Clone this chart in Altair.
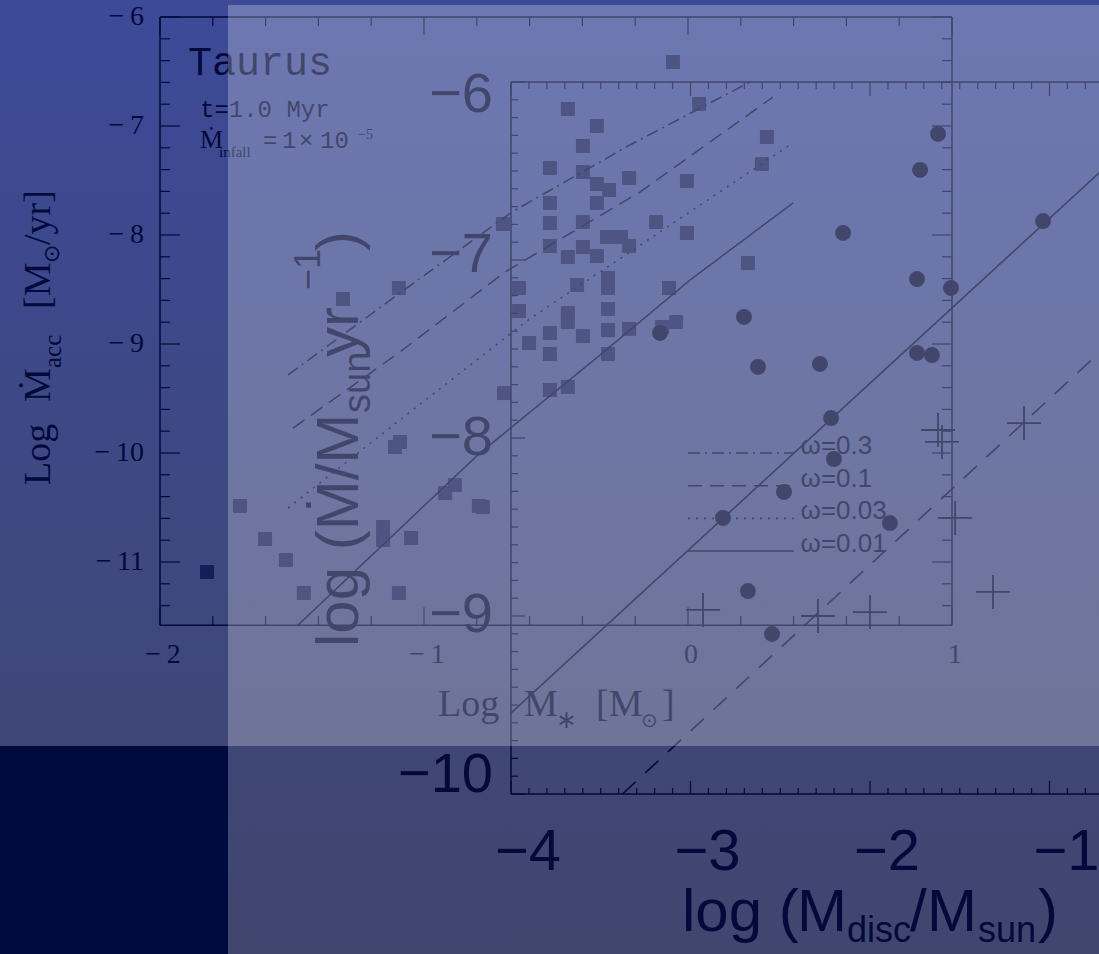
import altair as alt
import numpy as np
import pandas as pd

W, H = 1099, 954
INK = "#03093a"
SQUARE_FILL = "#151d5a"
SANS, SERIF, MONO = "Liberation Sans", "Liberation Serif", "Liberation Mono"

# ---------------- back panel: Taurus, log M* vs log Mdot_acc ----------------
taurus_logm = [
    -0.057, -0.455, 0.042, -0.345, -0.398, 0.299, 0.280, -0.523, -0.398, -0.223,
    -0.345, -0.299, -0.004, -0.523, -0.345, -0.523, -0.398, -0.121, -0.701, -0.307,
    -0.254, -0.223, -0.004, -0.523, -0.398, -0.455, -0.345, 0.227, -0.420, -0.303,
    -0.303, -0.303, -0.640, -0.072, -0.045, -0.640, -0.455, -0.455, -0.523, -0.398,
    -0.303, -0.223, -0.098, -0.602, -0.523, -0.303, -0.523, -0.455, -0.697, -0.777,
    -1.697, -1.602, -1.523, -1.455, -1.307, -1.095, -1.110, -1.091, -1.155, -1.155,
    -1.049, -1.095, -0.920, -0.883, -0.792, -1.822,
]
taurus_logmacc = [
    -6.413, -6.844, -6.798, -7.000, -7.183, -7.101, -7.349, -7.385, -7.422, -7.477,
    -7.532, -7.587, -7.505, -7.706, -7.706, -7.890, -7.881, -7.881, -7.899, -8.018,
    -8.018, -8.101, -7.982, -8.101, -8.110, -8.202, -8.193, -8.257, -8.459, -8.394,
    -8.486, -8.679, -8.486, -8.486, -8.798, -8.697, -8.716, -8.798, -8.899, -8.927,
    -8.872, -8.862, -8.844, -8.991, -9.092, -9.092, -9.422, -9.394, -9.450, -10.495,
    -10.486, -10.789, -10.982, -11.284, -8.587, -8.486, -9.945, -9.899, -10.679, -10.798,
    -10.780, -11.284, -10.367, -10.294, -10.486, -11.092,
]

# model curves for four values of omega
omega_labels = ["ω=0.3", "ω=0.1", "ω=0.03", "ω=0.01"]
omega_dash = [[12, 5, 2, 5], [14, 8], [2, 6], [1, 0]]
curve_logm = [
    [-1.515, -1.091, -0.667, -0.220, 0.235],
    [-1.496, -1.091, -0.693, -0.182, 0.322],
    [-1.515, -1.091, -0.606, -0.106, 0.386],
    [-1.477, -0.788, -0.333, 0.008, 0.398],
]
curve_logmacc = [
    [-9.284, -8.532, -7.789, -7.174, -6.596],
    [-9.771, -9.073, -8.339, -7.606, -6.734],
    [-10.505, -9.697, -8.780, -7.972, -7.174],
    [-11.578, -10.000, -9.101, -8.413, -7.706],
]
legend_key_y = [-10.0, -10.3, -10.6, -10.9]
legend_key_x = [0.0, 0.4]

back_y_ticks = [-6, -7, -8, -9, -10, -11]
back_y_labels = ["−\u20096", "−\u20097", "−\u20098", "−\u20099", "−\u200910", "−\u200911"]
back_x_ticks = [-2, -1, 0, 1]
back_x_labels = ["−\u20092", "−\u20091", "0", "1"]
BACK_BOTTOM = -11.58

# ---------------- front panel: log M_disc vs log Mdot ----------------
disc_logmd = [
    -1.621, -1.721, -2.150, -1.036, -1.738, -1.549, -2.702, -3.170, -1.738, -1.655,
    -2.279, -2.624, -2.217, -2.201, -2.479, -2.819, -1.889, -2.680, -2.546,
]
disc_logmdot = [
    -6.292, -6.494, -6.848, -6.781, -7.107, -7.157, -7.320, -7.410, -7.522, -7.534,
    -7.584, -7.601, -7.888, -8.118, -8.303, -8.449, -8.478, -8.860, -9.101,
]
limit_logmd = [-2.930, -2.290, -2.000, -1.621, -1.599, -1.526, -1.315, -1.142]
limit_logmdot = [-8.966, -9.000, -8.978, -7.955, -8.022, -8.449, -8.865, -7.916]

fit_solid_logmd = [-4.0, -0.6]
fit_solid_logmdot = [-9.545, -6.396]
fit_dashed_logmd = [-3.379, -0.6]
fit_dashed_logmdot = [-10.0, -7.406]

front_x_ticks = [-4, -3, -2, -1]
front_x_labels = ["−4", "−3", "−2", "−1"]
front_y_ticks = [-6, -7, -8, -9, -10]
front_y_labels = ["−6", "−7", "−8", "−9", "−10"]
front_y_label_shift = [13, -5, 0, -1, -19]   # px downward; end labels sit inside the frame
FRONT_RIGHT = -0.5


def lin(domain, rng):
    return alt.Scale(domain=domain, range=rng, zero=False, nice=False)


BX = lin([-2, 1], [160, 952])
BY = lin([-11, -6], [562, 17])
FX = lin([-4, -1], [511, 1049.5])
FY = lin([-10, -6], [794, 82])
FY_PER_UNIT = (794 - 82) / 4


def ex(f, s):
    return alt.X(f"{f}:Q", scale=s, axis=None)


def ey(f, s):
    return alt.Y(f"{f}:Q", scale=s, axis=None)


ONE = pd.DataFrame({"a": [0]})


def panel_rect(x0, x1, y0, y1, **kw):
    return alt.Chart(ONE).mark_rect(**kw).encode(
        x=alt.value(x0), x2=alt.value(x1), y=alt.value(y0), y2=alt.value(y1))


def segment(x1, x2, y1, y2, xs, ys, width=1.5):
    df = pd.DataFrame({"x": [x1], "x2": [x2], "y": [y1], "y2": [y2]})
    return alt.Chart(df).mark_rule(color=INK, strokeWidth=width).encode(
        x=ex("x", xs), x2=alt.X2("x2"), y=ey("y", ys), y2=alt.Y2("y2"))


def tick_layer(vals, const, side, length, xs, ys, width=1.2):
    if side in ("left", "right"):
        df = pd.DataFrame({"y": vals, "x": const})
        off = length if side == "left" else -length
        return alt.Chart(df).mark_rule(color=INK, strokeWidth=width, x2Offset=off).encode(
            x=ex("x", xs), x2=alt.X2("x"), y=ey("y", ys))
    df = pd.DataFrame({"x": vals, "y": const})
    off = length if side == "top" else -length
    return alt.Chart(df).mark_rule(color=INK, strokeWidth=width, y2Offset=off).encode(
        x=ex("x", xs), y=ey("y", ys), y2=alt.Y2("y"))


def minor(lo, hi, step):
    vals = np.round(np.arange(lo, hi + step / 2, step), 2)
    return [float(v) for v in vals if abs(v - round(v)) > 1e-6]


def text_pieces(rows, font, angle=0):
    df = pd.DataFrame(rows, columns=["t", "px", "py", "fs"])
    return alt.Chart(df).mark_text(
        font=font, align="left", baseline="alphabetic", angle=angle, color=INK
    ).encode(
        x=alt.X("px:Q", scale=None, axis=None),
        y=alt.Y("py:Q", scale=None, axis=None),
        text="t:N",
        size=alt.Size("fs:Q", scale=None, legend=None),
    )


layers = []

# backgrounds
layers.append(panel_rect(0, W, 0, H, color=alt.LinearGradient(
    gradient="linear",
    stops=[alt.GradientStop(color="#3c4a98", offset=0),
           alt.GradientStop(color="#40466e", offset=1)],
    x1=0, x2=0, y1=0, y2=1)))
layers.append(panel_rect(0, 228, 746, H, color="#000a3c"))

# ---- back panel ----
for x1, x2, y1, y2 in [(-2, 1, -6, -6), (-2, 1, BACK_BOTTOM, BACK_BOTTOM),
                       (-2, -2, BACK_BOTTOM, -6), (1, 1, BACK_BOTTOM, -6)]:
    layers.append(segment(x1, x2, y1, y2, BX, BY))

b_ymin = minor(-11.4, -6.2, 0.2)
b_xmin = minor(-1.8, 0.8, 0.2)
layers += [
    tick_layer(back_y_ticks, -2, "left", 20, BX, BY),
    tick_layer(b_ymin, -2, "left", 10, BX, BY),
    tick_layer(back_y_ticks, 1, "right", 20, BX, BY),
    tick_layer(b_ymin, 1, "right", 10, BX, BY),
    tick_layer(back_x_ticks, -6, "top", 18, BX, BY),
    tick_layer(b_xmin, -6, "top", 9, BX, BY),
    tick_layer(back_x_ticks, BACK_BOTTOM, "bottom", 18, BX, BY),
    tick_layer(b_xmin, BACK_BOTTOM, "bottom", 9, BX, BY),
]

ylab = pd.DataFrame({"v": back_y_ticks, "t": back_y_labels, "x": -2})
layers.append(alt.Chart(ylab).mark_text(
    font=SERIF, fontSize=28, align="right", baseline="middle", dx=-16, color=INK
).encode(x=ex("x", BX), y=ey("v", BY), text="t:N"))
xlab = pd.DataFrame({"v": back_x_ticks, "t": back_x_labels, "y": BACK_BOTTOM})
layers.append(alt.Chart(xlab).mark_text(
    font=SERIF, fontSize=28, align="center", baseline="middle", dx=3, dy=30, color=INK
).encode(x=ex("v", BX), y=ey("y", BY), text="t:N"))

sq = pd.DataFrame({"m": taurus_logm, "r": taurus_logmacc})
layers.append(alt.Chart(sq).mark_square(size=196, color=SQUARE_FILL, opacity=1).encode(
    x=ex("m", BX), y=ey("r", BY)))

for i, lab in enumerate(omega_labels):
    cdf = pd.DataFrame({"m": curve_logm[i], "r": curve_logmacc[i]})
    layers.append(alt.Chart(cdf).mark_line(
        color=INK, strokeWidth=1.5, strokeDash=omega_dash[i]
    ).encode(x=ex("m", BX), y=ey("r", BY)))
    kdf = pd.DataFrame({"x": [legend_key_x[0]], "x2": [legend_key_x[1]], "y": [legend_key_y[i]]})
    layers.append(alt.Chart(kdf).mark_rule(
        color=INK, strokeWidth=1.5, strokeDash=omega_dash[i]
    ).encode(x=ex("x", BX), x2=alt.X2("x2"), y=ey("y", BY)))
ldf = pd.DataFrame({"t": omega_labels, "y": legend_key_y, "x": legend_key_x[1]})
layers.append(alt.Chart(ldf).mark_text(
    font=SANS, fontSize=26, align="left", baseline="alphabetic", dx=7, dy=1, color=INK
).encode(x=ex("x", BX), y=ey("y", BY), text="t:N"))

# back panel titles and annotation
layers.append(text_pieces([
    ("Log", 50, 485, 38), ("Ṁ", 50, 402, 38), ("acc", 61, 368, 25),
    ("[M", 50, 309, 38), ("⊙", 59, 263, 22), ("/yr]", 50, 245, 38),
], SERIF, angle=270))
layers.append(text_pieces([
    ("Log", 438, 716, 38), ("M", 524, 716, 38), ("∗", 556, 728, 25),
    ("[M", 596, 716, 38), ("⊙", 641, 727, 20), ("]", 662, 716, 38),
    ("Ṁ", 200, 148, 26), ("infall", 219, 157, 15), ("−5", 358, 139, 14),
], SERIF))
layers.append(text_pieces([
    ("Taurus", 188, 75, 40), ("t=1.0 Myr", 200, 117, 24),
    ("=", 263, 148, 24), ("1", 282, 148, 24), ("×", 299, 148, 24), ("10", 320, 148, 24),
], MONO))

# ---- front panel ----
layers += [
    segment(-4, FRONT_RIGHT, -6, -6, FX, FY),
    segment(-4, FRONT_RIGHT, -10, -10, FX, FY),
    segment(-4, -4, -10, -6, FX, FY),
]
f_ymin = minor(-9.9, -6.1, 0.1)
f_xmin = minor(-3.9, -0.6, 0.1)
layers += [
    tick_layer(front_y_ticks, -4, "left", 14, FX, FY),
    tick_layer(f_ymin, -4, "left", 7, FX, FY),
    tick_layer(front_x_ticks, -6, "top", 14, FX, FY),
    tick_layer(f_xmin, -6, "top", 7, FX, FY),
    tick_layer(front_x_ticks, -10, "bottom", 13, FX, FY),
    tick_layer(f_xmin, -10, "bottom", 6, FX, FY),
]

fyl = pd.DataFrame({
    "v": [v - s / FY_PER_UNIT for v, s in zip(front_y_ticks, front_y_label_shift)],
    "t": front_y_labels, "x": -4})
layers.append(alt.Chart(fyl).mark_text(
    font=SANS, fontSize=56, align="right", baseline="middle", dx=-18, color=INK
).encode(x=ex("x", FX), y=ey("v", FY), text="t:N"))
fxl = pd.DataFrame({"v": front_x_ticks, "t": front_x_labels, "y": -10})
layers.append(alt.Chart(fxl).mark_text(
    font=SANS, fontSize=58, align="center", baseline="alphabetic", dx=17, dy=76, color=INK
).encode(x=ex("v", FX), y=ey("y", FY), text="t:N"))

for xs_, ys_, dash in [(fit_solid_logmd, fit_solid_logmdot, [1, 0]),
                       (fit_dashed_logmd, fit_dashed_logmdot, [18, 13])]:
    fdf = pd.DataFrame({"m": xs_, "r": ys_})
    layers.append(alt.Chart(fdf).mark_line(
        color=INK, strokeWidth=1.6, strokeDash=dash
    ).encode(x=ex("m", FX), y=ey("r", FY)))

cdf = pd.DataFrame({"m": disc_logmd, "r": disc_logmdot})
layers.append(alt.Chart(cdf).mark_circle(size=254, color=INK, opacity=1).encode(
    x=ex("m", FX), y=ey("r", FY)))
udf = pd.DataFrame({"m": limit_logmd, "r": limit_logmdot})
layers.append(alt.Chart(udf).mark_point(
    shape="M-1,0L1,0M0,-1L0,1", size=1156, filled=False, strokeWidth=1.8,
    color=INK, opacity=1
).encode(x=ex("m", FX), y=ey("r", FY)))

layers.append(text_pieces([
    ("log (", 682, 931, 60), ("M", 797, 931, 60), ("disc", 847, 942, 36),
    ("/", 910, 931, 60), ("M", 927, 931, 60), ("sun", 978, 942, 36), (")", 1038, 931, 60),
], SANS))
layers.append(text_pieces([
    ("log (Ṁ/M", 358, 647, 60), ("sun", 370, 413, 38), (" yr", 358, 357, 60),
    ("−1", 320, 290, 36), (")", 358, 251, 60),
], SANS, angle=270))

# translucent sheet over the upper-right area
layers.append(panel_rect(228, W, 5, 746, color="white", opacity=0.25))

chart = alt.layer(*layers).resolve_scale(
    x="independent", y="independent"
).properties(
    width=W, height=H, padding=0, background="#000a3c",
    autosize=alt.AutoSizeParams(type="none"),
).configure_view(stroke=None)

chart.save("out.html", embed_options={"renderer": "svg", "actions": False})
